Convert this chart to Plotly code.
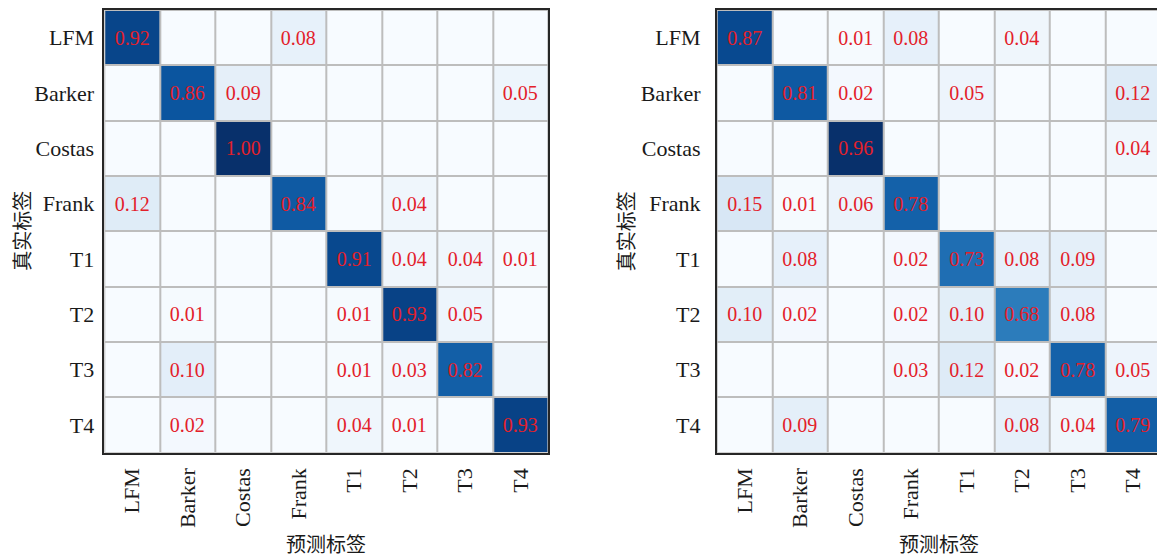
import plotly.graph_objects as go

# Signal classes (same order on both axes)
classes = ["LFM", "Barker", "Costas", "Frank", "T1", "T2", "T3", "T4"]

# Confusion matrix of model A (rows: true label, columns: predicted label)
cm_a = [
    [0.92, 0.00, 0.00, 0.08, 0.00, 0.00, 0.00, 0.00],
    [0.00, 0.86, 0.09, 0.00, 0.00, 0.00, 0.00, 0.05],
    [0.00, 0.00, 1.00, 0.00, 0.00, 0.00, 0.00, 0.00],
    [0.12, 0.00, 0.00, 0.84, 0.00, 0.04, 0.00, 0.00],
    [0.00, 0.00, 0.00, 0.00, 0.91, 0.04, 0.04, 0.01],
    [0.00, 0.01, 0.00, 0.00, 0.01, 0.93, 0.05, 0.00],
    [0.00, 0.10, 0.00, 0.00, 0.01, 0.03, 0.82, 0.04],
    [0.00, 0.02, 0.00, 0.00, 0.04, 0.01, 0.00, 0.93],
]
# cells of model A whose value label is left blank (row, column)
unlabeled_a = [("T3", "T4")]

# Confusion matrix of model B
cm_b = [
    [0.87, 0.00, 0.01, 0.08, 0.00, 0.04, 0.00, 0.00],
    [0.00, 0.81, 0.02, 0.00, 0.05, 0.00, 0.00, 0.12],
    [0.00, 0.00, 0.96, 0.00, 0.00, 0.00, 0.00, 0.04],
    [0.15, 0.01, 0.06, 0.78, 0.00, 0.00, 0.00, 0.00],
    [0.00, 0.08, 0.00, 0.02, 0.73, 0.08, 0.09, 0.00],
    [0.10, 0.02, 0.00, 0.02, 0.10, 0.68, 0.08, 0.00],
    [0.00, 0.00, 0.00, 0.03, 0.12, 0.02, 0.78, 0.05],
    [0.00, 0.09, 0.00, 0.00, 0.00, 0.08, 0.04, 0.79],
]
unlabeled_b = []

x_title = "预测标签"
y_title = "真实标签"

# ---- layout constants (pixels) ----
W, H = 1157, 558
TOP, BOTTOM = 10.0, 452.7
CELL = 55.5
LEFT_A = 104.3
LEFT_B = 716.7

# matplotlib "Blues"
blues = [
    [0.000, "#f7fbff"], [0.125, "#deebf7"], [0.250, "#c6dbef"],
    [0.375, "#9ecae1"], [0.500, "#6baed6"], [0.625, "#4292c6"],
    [0.750, "#2171b5"], [0.875, "#08519c"], [1.000, "#08306b"],
]

SERIF = "Liberation Serif"
CJK = "Noto Sans CJK SC"
RED = "#e3202a"
GRID = "#bdbdbd"
FRAME = "#262626"


def labels(cm, blank):
    skip = {(classes.index(r), classes.index(c)) for r, c in blank}
    return [[("" if v == 0 or (i, j) in skip else f"{v:.2f}")
             for j, v in enumerate(row)] for i, row in enumerate(cm)]


idx = list(range(len(classes)))
fig = go.Figure()
for cm, blank, xa, ya in [(cm_a, unlabeled_a, "x", "y"), (cm_b, unlabeled_b, "x2", "y2")]:
    fig.add_trace(go.Heatmap(
        z=cm, x=idx, y=idx, text=labels(cm, blank), texttemplate="%{text}",
        textfont=dict(family=SERIF, size=20, color=RED),
        colorscale=blues, zmin=0, zmax=max(max(r) for r in cm),
        showscale=False, xgap=2, ygap=2, hoverinfo="skip",
        xaxis=xa, yaxis=ya,
    ))

n = len(classes)
ydom = [1 - BOTTOM / H, 1 - TOP / H]
dom_a = [LEFT_A / W, (LEFT_A + n * CELL) / W]
dom_b = [LEFT_B / W, 1.0]
# the right panel runs past the page edge; show only the visible part
x_end_b = -0.5 + n * (W - LEFT_B) / (n * CELL)

tick_font = dict(family=SERIF, size=22, color="#1a1a1a")
common_x = dict(tickvals=idx, ticktext=classes, tickangle=-90, ticks="",
                showgrid=False, zeroline=False, showline=True, linecolor=FRAME,
                linewidth=1.5, mirror=True, tickfont=tick_font, automargin=False,
                ticklabelstandoff=5, fixedrange=True)
common_y = dict(tickvals=idx, ticktext=classes, ticks="", showgrid=False,
                zeroline=False, showline=True, linecolor=FRAME, linewidth=1.5,
                tickfont=tick_font, automargin=False, range=[n - 0.5, -0.5],
                fixedrange=True)

fig.update_layout(
    width=W, height=H,
    margin=dict(l=0, r=0, t=0, b=0),
    paper_bgcolor="white", plot_bgcolor=GRID,
    xaxis=dict(common_x, domain=dom_a, range=[-0.5, n - 0.5], anchor="y"),
    yaxis=dict(common_y, domain=ydom, anchor="x", mirror=True, ticklabelstandoff=4),
    xaxis2=dict(common_x, domain=dom_b, range=[-0.5, x_end_b], anchor="y2"),
    yaxis2=dict(common_y, domain=ydom, anchor="x2", mirror=False, ticklabelstandoff=10),
    showlegend=False,
)

title_font = dict(family=CJK, size=20, color="#1a1a1a")
for left, ytx in [(LEFT_A, 21.5), (LEFT_B, 625.0)]:
    fig.add_annotation(text=x_title, xref="paper", yref="paper",
                       x=(left + n * CELL / 2) / W, y=1 - 543 / H,
                       showarrow=False, font=title_font, xanchor="center", yanchor="middle")
    fig.add_annotation(text=y_title, xref="paper", yref="paper",
                       x=ytx / W, y=1 - (TOP + BOTTOM) / 2 / H, textangle=-90,
                       showarrow=False, font=title_font, xanchor="center", yanchor="middle")

fig.write_html("out.html")
